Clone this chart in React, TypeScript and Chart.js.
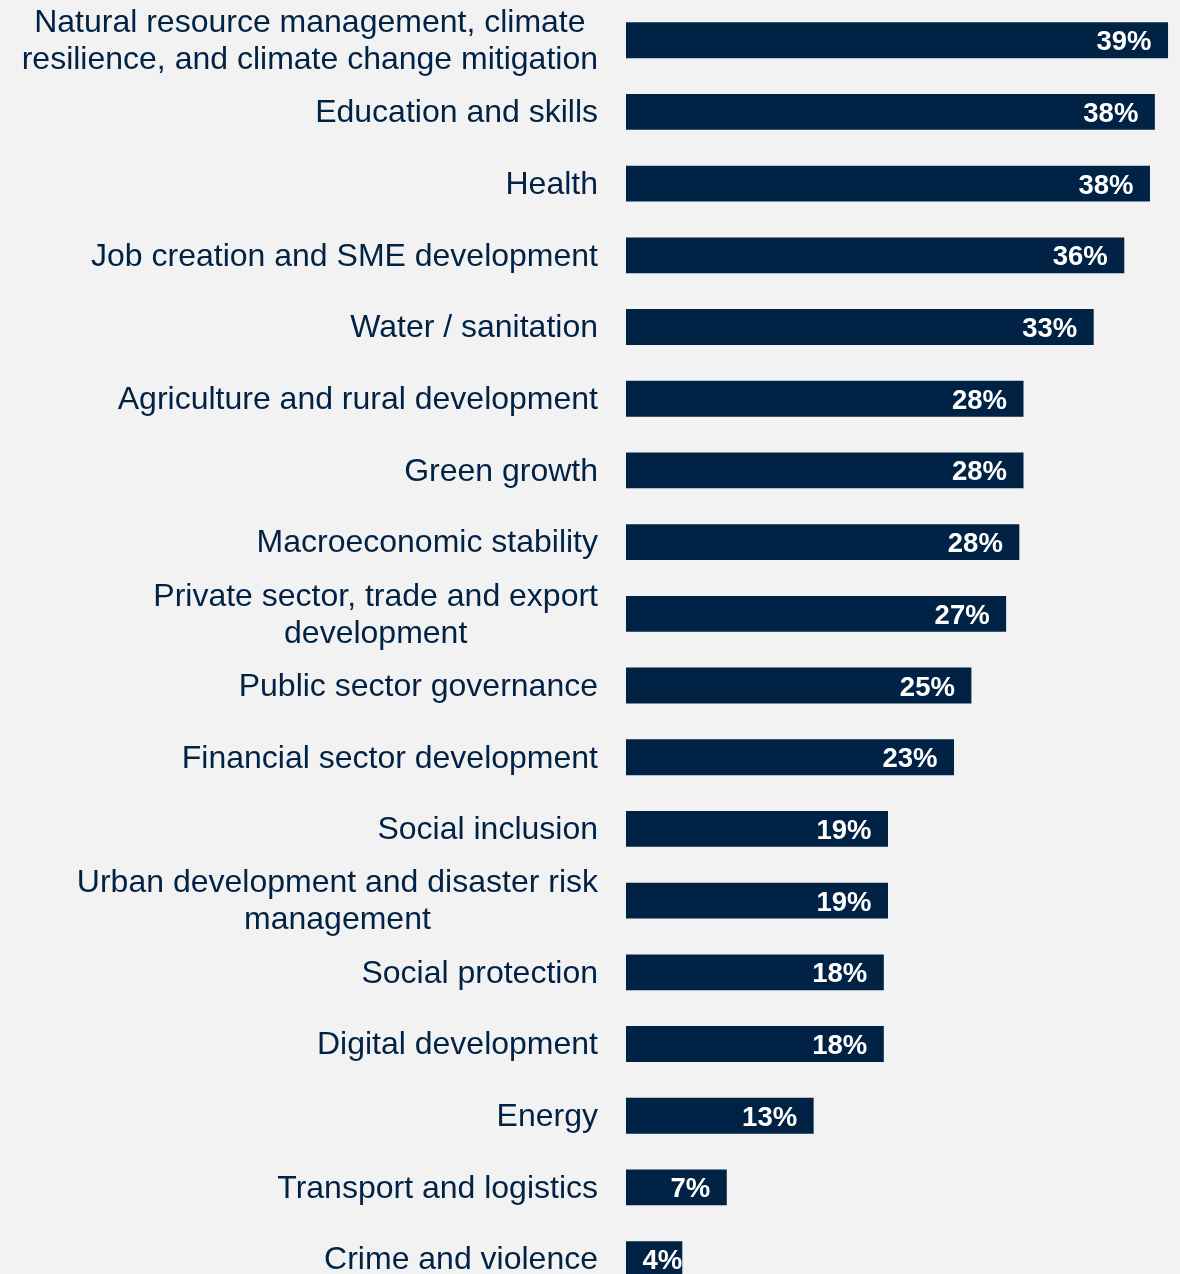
import React, { useEffect, useRef } from "react";
import { Chart, registerables } from "chart.js";

Chart.register(...registerables);

const categories: (string | string[])[] = [
  ["Natural resource management, climate", "resilience, and climate change mitigation"],
  "Education and skills",
  "Health",
  "Job creation and SME development",
  "Water / sanitation",
  "Agriculture and rural development",
  "Green growth",
  "Macroeconomic stability",
  ["Private sector, trade and export", "development"],
  "Public sector governance",
  "Financial sector development",
  "Social inclusion",
  ["Urban development and disaster risk", "management"],
  "Social protection",
  "Digital development",
  "Energy",
  "Transport and logistics",
  "Crime and violence",
];

const shares = [39.0, 38.05, 37.7, 35.85, 33.65, 28.6, 28.6, 28.3, 27.35, 24.85, 23.6, 18.85, 18.85, 18.55, 18.55, 13.5, 7.25, 4.05];

const shareLabels = ["39%", "38%", "38%", "36%", "33%", "28%", "28%", "28%", "27%", "25%", "23%", "19%", "19%", "18%", "18%", "13%", "7%", "4%"];

const NAVY = "#002245";
const BG = "#f2f2f2";
const FONT = "'Liberation Sans', Arial, sans-serif";

const labelPlugin = {
  id: "customLabels",
  afterDatasetsDraw(chart: any) {
    const ctx = chart.ctx as CanvasRenderingContext2D;
    const meta = chart.getDatasetMeta(0);
    const yScale = chart.scales.y;
    const area = chart.chartArea;
    ctx.save();
    // value labels inside bars
    ctx.font = `bold 27.5px ${FONT}`;
    ctx.fillStyle = "#ffffff";
    ctx.textBaseline = "middle";
    ctx.textAlign = "left";
    meta.data.forEach((el: any, i: number) => {
      const txt = shareLabels[i];
      const tw = ctx.measureText(txt).width;
      const left = Math.max(el.x - 16.5 - tw, el.base + 16.5);
      ctx.fillText(txt, left, el.y + 2.5);
    });
    // category labels
    ctx.font = `32px ${FONT}`;
    ctx.fillStyle = NAVY;
    ctx.textAlign = "center";
    const right = area.left - 28;
    const lh = 37;
    categories.forEach((c, i) => {
      const lines = Array.isArray(c) ? c : [c];
      const y = yScale.getPixelForValue(i) + 1.5;
      const maxW = Math.max(...lines.map((l) => ctx.measureText(l).width));
      const cx = right - maxW / 2;
      lines.forEach((l, j) => {
        ctx.fillText(l, cx, y + (j - (lines.length - 1) / 2) * lh);
      });
    });
    ctx.restore();
  },
};

export default function App() {
  const ref = useRef<HTMLCanvasElement>(null);
  useEffect(() => {
    if (!ref.current) return;
    const chart = new Chart(ref.current, {
      type: "bar",
      data: {
        labels: categories as any,
        datasets: [
          {
            data: shares,
            backgroundColor: NAVY,
            borderWidth: 0,
            barPercentage: 0.5,
            categoryPercentage: 1.0,
          },
        ],
      },
      options: {
        indexAxis: "y",
        animation: false,
        responsive: false,
        maintainAspectRatio: false,
        layout: { padding: { left: 626, right: 5, top: 4.35, bottom: 5.05 } },
        plugins: { legend: { display: false }, tooltip: { enabled: false } },
        scales: {
          x: { display: false, min: 0, max: 39.5 },
          y: { display: false, offset: true },
        },
      },
      plugins: [labelPlugin],
    });
    return () => chart.destroy();
  }, []);
  return (
    <div
      style={{
        position: "fixed",
        top: 0,
        left: 0,
        width: 1180,
        height: 1274,
        overflow: "hidden",
        background: BG,
      }}
    >
      <canvas ref={ref} width={1180} height={1300} style={{ display: "block", width: 1180, height: 1300 }} />
    </div>
  );
}
